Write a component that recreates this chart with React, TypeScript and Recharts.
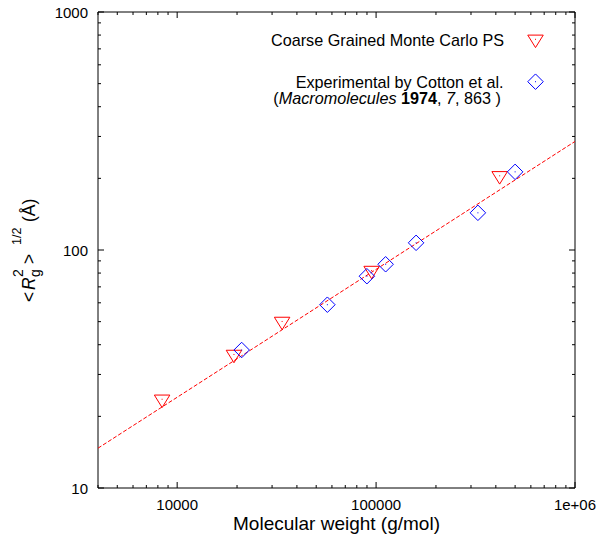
import React from 'react';
import { ScatterChart, Scatter, XAxis, YAxis, Customized } from 'recharts';

// ---- data ----
const mcMW = [8400, 19300, 33700, 95000, 418000];
const mcRg = [23.6, 36.4, 50.1, 82.0, 205];
const expMW = [21100, 56900, 89900, 111700, 158900, 325000, 500000];
const expRg = [38.0, 58.9, 77.6, 87.1, 107.2, 143.3, 213];
const fitMW = [4000, 1000000];
const fitRg = [14.7, 285.8];

const xTicks = [
  4000, 5000, 6000, 7000, 8000, 9000,
  10000, 20000, 30000, 40000, 50000, 60000, 70000, 80000, 90000,
  100000, 200000, 300000, 400000, 500000, 600000, 700000, 800000, 900000,
  1000000,
];
const xMajor = [10000, 100000, 1000000];
const xMajorLabels = ['10000', '100000', '1e+06'];
const yTicks = [
  10, 20, 30, 40, 50, 60, 70, 80, 90,
  100, 200, 300, 400, 500, 600, 700, 800, 900,
  1000,
];
const yMajor = [10, 100, 1000];
const yMajorLabels = ['10', '100', '1000'];

const xDomain = [4000, 1000000];
const yDomain = [10, 1000];

const mcData = mcMW.map((m, i) => ({ x: m, y: mcRg[i] }));
const expData = expMW.map((m, i) => ({ x: m, y: expRg[i] }));
const fitData = fitMW.map((m, i) => ({ x: m, y: fitRg[i] }));

const FONT = "'Liberation Sans', Arial, Helvetica, sans-serif";
const RED = '#ff0000';
const BLUE = '#0000ff';

const TriDown = ({ cx, cy }: any) => {
  if (cx == null || cy == null) return <g />;
  const w = 7.75;
  return (
    <g>
      <polygon
        points={`${cx - w},${cy - 4.2} ${cx + w},${cy - 4.2} ${cx},${cy + 8.3}`}
        fill="none"
        stroke={RED}
        strokeWidth={1}
      />
      <rect x={cx - 0.5} y={cy - 0.5} width={1} height={1} fill={RED} />
    </g>
  );
};

const Diamond = ({ cx, cy }: any) => {
  if (cx == null || cy == null) return <g />;
  const r = 7.75;
  return (
    <g>
      <polygon
        points={`${cx},${cy - r} ${cx + r},${cy} ${cx},${cy + r} ${cx - r},${cy}`}
        fill="none"
        stroke={BLUE}
        strokeWidth={1}
      />
      <rect x={cx - 0.5} y={cy - 0.5} width={1} height={1} fill={BLUE} />
    </g>
  );
};

const BottomTick = (props: any) => {
  const { x, y, payload } = props;
  const idx = xMajor.indexOf(payload.value);
  const major = idx >= 0;
  return (
    <g>
      <line x1={x} y1={y} x2={x} y2={y - (major ? 6 : 3)} stroke="#000" strokeWidth={1} />
      {major && (
        <text x={x} y={y + 22} textAnchor="middle" fontSize={15} fontFamily={FONT} fill="#000">
          {xMajorLabels[idx]}
        </text>
      )}
    </g>
  );
};

const TopTick = (props: any) => {
  const { x, y, payload } = props;
  const major = xMajor.indexOf(payload.value) >= 0;
  return <line x1={x} y1={y} x2={x} y2={y + (major ? 6 : 3)} stroke="#000" strokeWidth={1} />;
};

const LeftTick = (props: any) => {
  const { x, y, payload } = props;
  const idx = yMajor.indexOf(payload.value);
  const major = idx >= 0;
  return (
    <g>
      <line x1={x} y1={y} x2={x + (major ? 6 : 3)} y2={y} stroke="#000" strokeWidth={1} />
      {major && (
        <text x={x - 10} y={y + 6} textAnchor="end" fontSize={15} fontFamily={FONT} fill="#000">
          {yMajorLabels[idx]}
        </text>
      )}
    </g>
  );
};

const RightTick = (props: any) => {
  const { x, y, payload } = props;
  const major = yMajor.indexOf(payload.value) >= 0;
  return <line x1={x} y1={y} x2={x - (major ? 6 : 3)} y2={y} stroke="#000" strokeWidth={1} />;
};

const Overlay = () => (
  <g fontFamily={FONT} fill="#000">
    {/* x axis title */}
    <text x={336.5} y={529.5} textAnchor="middle" fontSize={19}>
      Molecular weight (g/mol)
    </text>
    {/* y axis title */}
    <g transform="translate(35,250) rotate(-90)">
      <text x={-52} y={0} fontSize={17.5}>&lt;</text>
      <text x={-40} y={0} fontSize={17.5} fontStyle="italic">R</text>
      <text x={-27} y={5} fontSize={14}>g</text>
      <text x={-27} y={-12} fontSize={14}>2</text>
      <text x={-14} y={0} fontSize={17.5}>&gt;</text>
      <text x={5} y={-14} fontSize={12.5}>1/2</text>
      <text x={28} y={0} fontSize={17.5}>(Å)</text>
    </g>
    {/* legend */}
    <text x={504} y={45.5} textAnchor="end" fontSize={16.2}>
      Coarse Grained Monte Carlo PS
    </text>
    <TriDown cx={535.5} cy={39.3} />
    <text x={503.5} y={87.5} textAnchor="end" fontSize={16.2}>
      Experimental by Cotton et al.
    </text>
    <text x={501} y={104} textAnchor="end" fontSize={16.2}>
      (<tspan fontStyle="italic">Macromolecules</tspan> <tspan fontWeight="bold">1974</tspan>,{' '}
      <tspan fontStyle="italic">7</tspan>, 863 )
    </text>
    <Diamond cx={535.5} cy={81.7} />
  </g>
);

export default function App() {
  return (
    <div style={{ width: 598, height: 543 }}>
      <style>{'html,body{margin:0;padding:0;overflow:hidden;}'}</style>
      <ScatterChart width={598} height={543} margin={{ top: 8, right: 0, bottom: 0, left: 8 }}>
        <XAxis
          xAxisId={0}
          dataKey="x"
          type="number"
          scale="log"
          domain={xDomain}
          allowDataOverflow
          ticks={xTicks}
          interval={0}
          height={55}
          tickSize={0}
          tickMargin={0}
          tickLine={false}
          tick={<BottomTick />}
          axisLine={{ stroke: '#000', strokeWidth: 1 }}
        />
        <XAxis
          xAxisId="top"
          orientation="top"
          dataKey="x"
          type="number"
          scale="log"
          domain={xDomain}
          allowDataOverflow
          ticks={xTicks}
          interval={0}
          height={4}
          tickSize={0}
          tickMargin={0}
          tickLine={false}
          tick={<TopTick />}
          axisLine={{ stroke: '#000', strokeWidth: 1 }}
        />
        <YAxis
          yAxisId={0}
          dataKey="y"
          type="number"
          scale="log"
          domain={yDomain}
          allowDataOverflow
          ticks={yTicks}
          interval={0}
          width={90}
          tickSize={0}
          tickMargin={0}
          tickLine={false}
          tick={<LeftTick />}
          axisLine={{ stroke: '#000', strokeWidth: 1 }}
        />
        <YAxis
          yAxisId="right"
          orientation="right"
          dataKey="y"
          type="number"
          scale="log"
          domain={yDomain}
          allowDataOverflow
          ticks={yTicks}
          interval={0}
          width={23}
          tickSize={0}
          tickMargin={0}
          tickLine={false}
          tick={<RightTick />}
          axisLine={{ stroke: '#000', strokeWidth: 1 }}
        />
        <Scatter
          data={fitData}
          fill={RED}
          line={{ stroke: RED, strokeWidth: 1, strokeDasharray: '4 2' }}
          shape={() => <g />}
          isAnimationActive={false}
        />
        <Scatter data={mcData} shape={<TriDown />} isAnimationActive={false} />
        <Scatter data={expData} shape={<Diamond />} isAnimationActive={false} />
        <Customized component={Overlay} />
      </ScatterChart>
    </div>
  );
}
